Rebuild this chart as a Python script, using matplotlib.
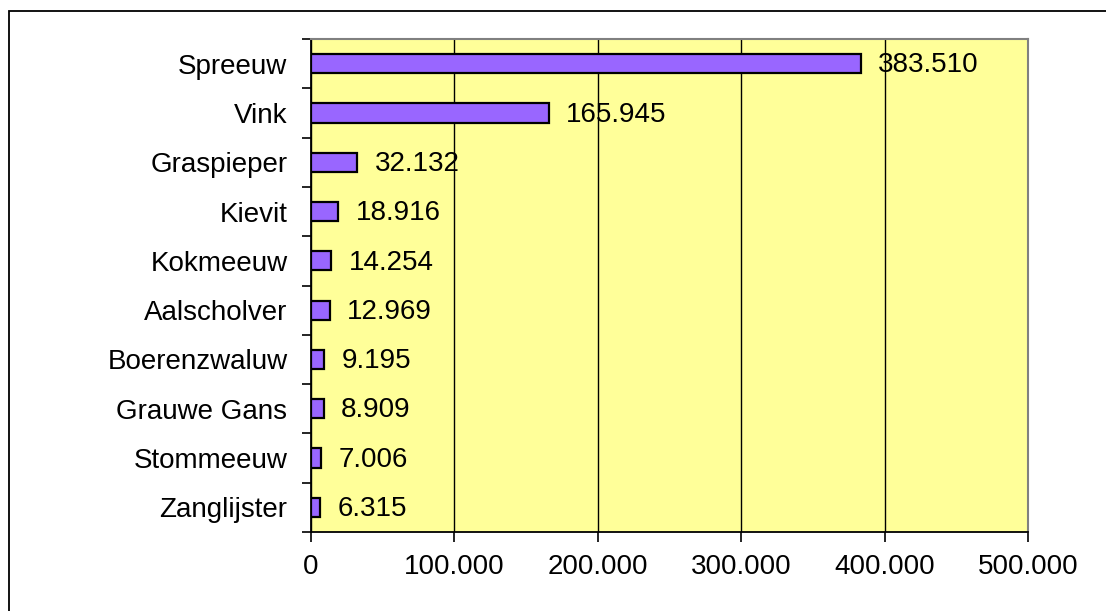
import matplotlib
matplotlib.use("Agg")
import matplotlib.pyplot as plt
from matplotlib.patches import Rectangle
from matplotlib.ticker import FuncFormatter

categories = ["Spreeuw", "Vink", "Graspieper", "Kievit", "Kokmeeuw",
              "Aalscholver", "Boerenzwaluw", "Grauwe Gans", "Stommeeuw", "Zanglijster"]
values = [383510, 165945, 32132, 18916, 14254, 12969, 9195, 8909, 7006, 6315]
xticks = [0, 100000, 200000, 300000, 400000, 500000]

plt.rcParams['font.family'] = ['Liberation Sans', 'DejaVu Sans']

W, H = 1106, 611
fig = plt.figure(figsize=(W / 100, H / 100), dpi=100)
fig.patch.set_facecolor("white")

# outer chart border (right/bottom cut off in reference)
fig.add_artist(Rectangle((9 / W, -0.05), 1.2, 1 - 11 / H + 0.05, transform=fig.transFigure,
                         fill=False, edgecolor="black", linewidth=1.3))

ax = fig.add_axes([311 / W, 1 - 532 / H, (1028 - 311) / W, (532 - 39) / H])
ax.set_facecolor("#FFFF99")

def fmt(v):
    return f"{int(v):,}".replace(",", ".")

FS = 20
n = len(categories)
ypos = list(range(n))
ax.barh(ypos, values, height=0.39, color="#9966FF", edgecolor="black", linewidth=1.6, zorder=3)
for y, v in zip(ypos, values):
    ax.annotate(fmt(v), xy=(v, y), xytext=(12.5, -1.2), textcoords="offset points",
                va="center", ha="left", fontsize=FS, color="black", zorder=4)

ax.set_xlim(0, 500000)
ax.set_ylim(n - 0.5, -0.5)
ax.set_xticks(xticks)
ax.xaxis.set_major_formatter(FuncFormatter(lambda v, p: fmt(v)))
ax.grid(axis="x", color="black", linewidth=1.0, zorder=1)
ax.set_axisbelow(True)

ax.set_yticks(ypos)
ax.set_yticklabels(categories)
ax.set_yticks([i - 0.5 for i in range(n + 1)], minor=True)
ax.tick_params(axis="y", which="major", length=0, pad=17, labelsize=FS)
ax.tick_params(axis="y", which="minor", length=6.5, width=1.2, direction="out")
ax.tick_params(axis="x", which="major", length=7, width=1.2, direction="out", pad=9, labelsize=FS)

for side in ["top", "right"]:
    ax.spines[side].set_color("#808080")
    ax.spines[side].set_linewidth(1.5)
for side in ["left", "bottom"]:
    ax.spines[side].set_color("black")
    ax.spines[side].set_linewidth(1.3)

fig.savefig("out.png", dpi=100)
